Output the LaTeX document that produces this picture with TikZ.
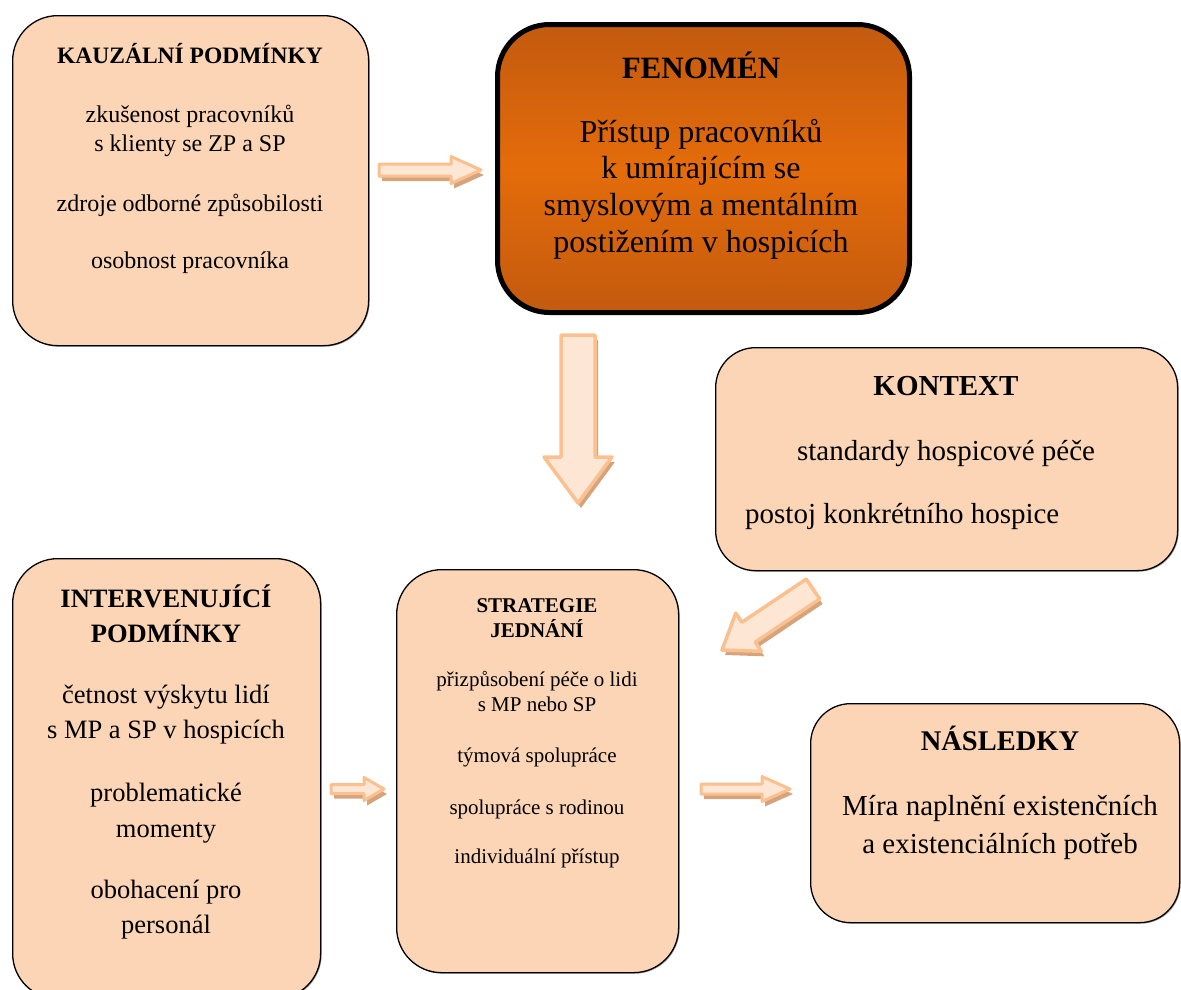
\documentclass[tikz,border=0pt]{standalone}
\usepackage{fontspec}
\setmainfont{Liberation Serif}
\usetikzlibrary{calc}
\definecolor{peach}{HTML}{FBD5B5}
\definecolor{fenDark}{HTML}{C35A0F}
\definecolor{fenLight}{HTML}{E46C0A}
\definecolor{arrLine}{HTML}{FAC08F}
\definecolor{arrFill}{HTML}{FDE6D3}
\definecolor{arrShadow}{HTML}{D6A47C}
\newcommand\fs[1]{\fontsize{#1}{#1}\selectfont}
\newcommand\blockarr[7]{% from, to, shaft half, head half, head length, line width, name
  \coordinate (#7hb) at ($(#2)!#5!(#1)$);
  \begin{scope}[transform canvas={xshift=3pt,yshift=-5pt}]
    \fill[arrShadow]
      ($(#1)!#3!90:(#2)$) -- ($(#7hb)!#3!90:(#2)$) -- ($(#7hb)!#4!90:(#2)$) -- (#2)
      -- ($(#7hb)!#4!-90:(#2)$) -- ($(#7hb)!#3!-90:(#2)$) -- ($(#1)!#3!-90:(#2)$) -- cycle;
  \end{scope}
  \filldraw[blockarrow, line width=#6]
      ($(#1)!#3!90:(#2)$) -- ($(#7hb)!#3!90:(#2)$) -- ($(#7hb)!#4!90:(#2)$) -- (#2)
      -- ($(#7hb)!#4!-90:(#2)$) -- ($(#7hb)!#3!-90:(#2)$) -- ($(#1)!#3!-90:(#2)$) -- cycle;
}
\tikzset{
  box/.style={draw=black, line width=1.3pt, fill=peach, rounded corners=#1,
    inner sep=0pt, anchor=north west},
  boxshadow/.style={fill=black!35, rounded corners=#1, inner sep=0pt, anchor=north west, draw=none},
  fenbox/.style={draw=black, line width=5pt, rounded corners=52pt, inner sep=0pt,
    anchor=north west, top color=fenDark, bottom color=fenDark, middle color=fenLight},
  txt/.style={anchor=base, inner sep=0pt},
  txtw/.style={anchor=base west, inner sep=0pt},
  blockarrow/.style={draw=arrLine, fill=arrFill, line join=round},
}
\begin{document}
\begin{tikzpicture}[x=1pt, y=-1pt]
\path[use as bounding box] (0,0) rectangle (1181,989);
\clip (0,0) rectangle (1181,989);

% ---- boxes ----
\node[boxshadow=45pt, minimum width=356pt, minimum height=330pt] (kauzs) at (13.5,16.5) {};
\node[box=45pt, minimum width=356pt, minimum height=330pt] (kauz) at (12,15) {};
\node[fenbox, minimum width=412pt, minimum height=288pt] (fen) at (495,22) {};
\node[boxshadow=40pt, minimum width=462pt, minimum height=223pt] (kons) at (716.5,348.5) {};
\node[box=40pt, minimum width=462pt, minimum height=223pt] (kon) at (715,347) {};
\node[boxshadow=45pt, minimum width=308pt, minimum height=440pt] (ints) at (13.5,559.5) {};
\node[box=45pt, minimum width=308pt, minimum height=440pt] (int) at (12,558) {};
\node[boxshadow=45pt, minimum width=282pt, minimum height=403pt] (strs) at (397.5,570.5) {};
\node[box=45pt, minimum width=282pt, minimum height=403pt] (str) at (396,569) {};
\node[boxshadow=40pt, minimum width=369pt, minimum height=219pt] (nass) at (811.5,704.5) {};
\node[box=40pt, minimum width=369pt, minimum height=219pt] (nas) at (810,703) {};

% ---- KAUZALNI PODMINKY ----
\node[txt, font=\fs{23.5}\bfseries] (k0) at (190,63) {KAUZÁLNÍ PODMÍNKY};
\node[txt, font=\fs{24}] (k1) at (190,122) {zkušenost pracovníků};
\node[txt, font=\fs{24}] (k2) at (190,151) {s klienty se ZP a SP};
\node[txt, font=\fs{24}] (k3) at (190,211) {zdroje odborné způsobilosti};
\node[txt, font=\fs{24}] (k4) at (190,268) {osobnost pracovníka};

% ---- FENOMEN ----
\node[txt, font=\fs{31}\bfseries] (f0) at (701,78) {FENOMÉN};
\node[txt, font=\fs{32}] (f1) at (701,142) {Přístup pracovníků};
\node[txt, font=\fs{32}] (f2) at (701,178.5) {k umírajícím se};
\node[txt, font=\fs{32}] (f3) at (701,215.5) {smyslovým a mentálním};
\node[txt, font=\fs{32}] (f4) at (701,252) {postižením v hospicích};

% ---- KONTEXT ----
\node[txt, font=\fs{29}\bfseries] (c0) at (946,395) {KONTEXT};
\node[txt, font=\fs{29}] (c1) at (946,460) {standardy hospicové péče};
\node[txtw, font=\fs{29}] (c2) at (745,523) {postoj konkrétního hospice};

% ---- INTERVENUJICI PODMINKY ----
\node[txt, font=\fs{26.5}\bfseries] (i0) at (166,607) {INTERVENUJÍCÍ};
\node[txt, font=\fs{26.5}\bfseries] (i1) at (166,642) {PODMÍNKY};
\node[txt, font=\fs{26.5}] (i2) at (166,703) {četnost výskytu lidí};
\node[txt, font=\fs{26.5}] (i3) at (166,738) {s MP a SP v hospicích};
\node[txt, font=\fs{26.5}] (i4) at (166,801) {problematické};
\node[txt, font=\fs{26.5}] (i5) at (166,837) {momenty};
\node[txt, font=\fs{26.5}] (i6) at (166,898) {obohacení pro};
\node[txt, font=\fs{26.5}] (i7) at (166,933) {personál};

% ---- STRATEGIE JEDNANI ----
\node[txt, font=\fs{21}\bfseries] (s0) at (537,612) {STRATEGIE};
\node[txt, font=\fs{21}\bfseries] (s1) at (537,637) {JEDNÁNÍ};
\node[txt, font=\fs{21}] (s2) at (537,686) {přizpůsobení péče o lidi};
\node[txt, font=\fs{21}] (s3) at (537,711) {s MP nebo SP};
\node[txt, font=\fs{21}] (s4) at (537,762) {týmová spolupráce};
\node[txt, font=\fs{21}] (s5) at (537,814) {spolupráce s rodinou};
\node[txt, font=\fs{21}] (s6) at (537,863) {individuální přístup};

% ---- NASLEDKY ----
\node[txt, font=\fs{28.5}\bfseries] (n0) at (1000,750) {NÁSLEDKY};
\node[txt, font=\fs{29}] (n1) at (1000,815) {Míra naplnění existenčních};
\node[txt, font=\fs{29}] (n2) at (1000,853) {a existenciálních potřeb};

% ---- arrows ----
\coordinate (a1s) at (379,170);
\coordinate (a1e) at (481,170);
\coordinate (a2s) at (578,335);
\coordinate (a2e) at (578,503);
\coordinate (a3s) at (813,589);
\coordinate (a3e) at (722,650);
\coordinate (a4s) at (331,789);
\coordinate (a4e) at (384,789);
\coordinate (a5s) at (701,789);
\coordinate (a5e) at (790,789);
\blockarr{a1s}{a1e}{6pt}{13.5pt}{30pt}{3pt}{a1}
\blockarr{a2s}{a2e}{17pt}{34pt}{46pt}{3.5pt}{a2}
\blockarr{a3s}{a3e}{12pt}{23pt}{32pt}{3.5pt}{a3}
\blockarr{a4s}{a4e}{4.5pt}{11.5pt}{20pt}{3pt}{a4}
\blockarr{a5s}{a5e}{5pt}{12.5pt}{28pt}{3pt}{a5}
\end{tikzpicture}
\end{document}
